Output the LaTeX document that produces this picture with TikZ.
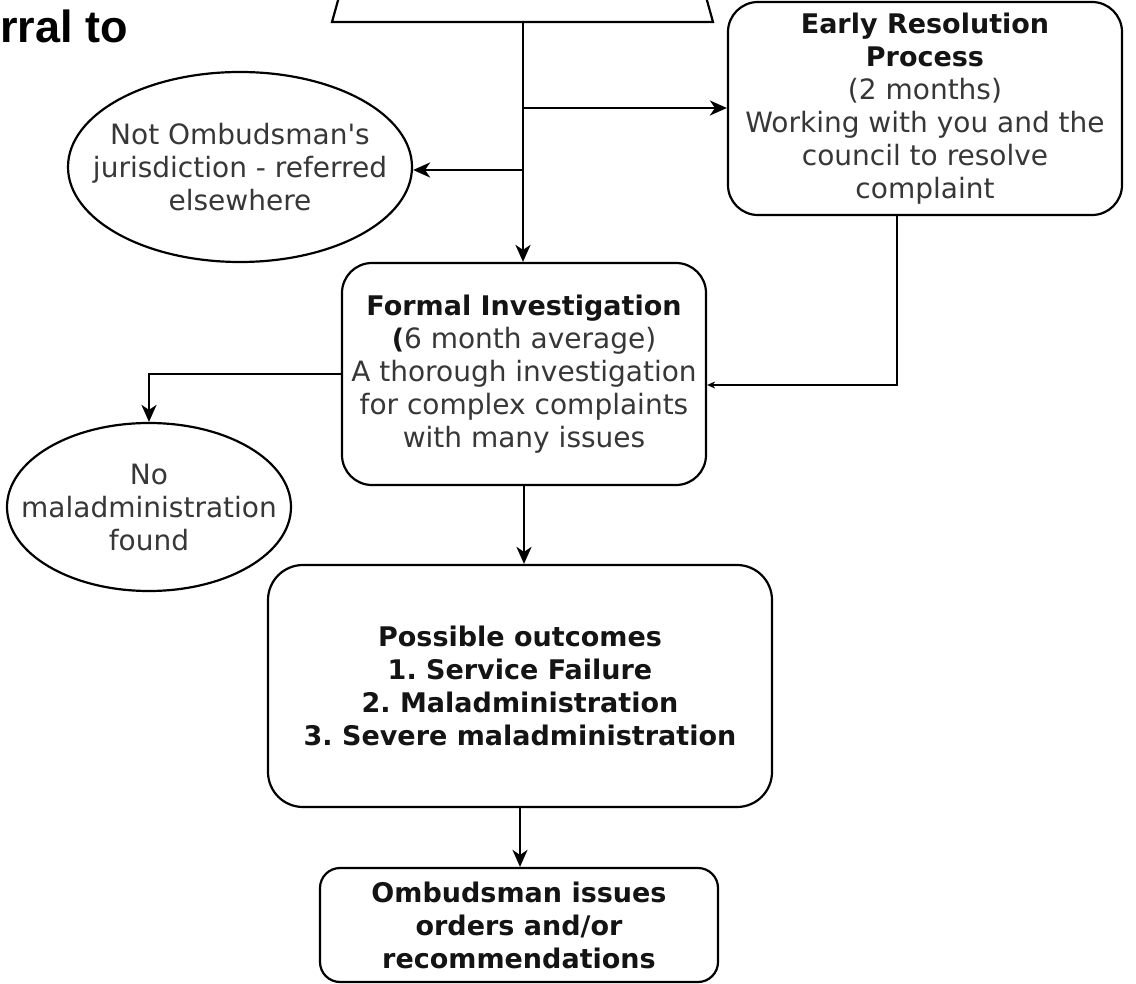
\documentclass[tikz,border=0pt]{standalone}
\usepackage{fontspec}
\setmainfont{DejaVu Sans}[Ligatures=TeXOff]
\newfontfamily\titlefont{Liberation Sans}
\usetikzlibrary{shapes.geometric,arrows.meta}
\definecolor{txt}{RGB}{55,55,55}
\definecolor{btxt}{RGB}{20,20,20}
\newcommand{\bt}[1]{\textcolor{btxt}{\fontsize{27}{33}\selectfont\textbf{#1}}}
\frenchspacing
\begin{document}
\begin{tikzpicture}[x=1pt,y=-1pt,
  line/.style={draw=black,line width=2.2pt},
  arr/.style={line,-{Stealth[length=17pt,width=15pt,inset=5pt]}},
  smallarr/.style={line,-{Stealth[length=8pt,width=7pt,inset=2.5pt]}},
  box/.style={draw=black,line width=2.2pt,rounded corners=30pt,align=center,inner sep=0pt,
    text=txt,font=\fontsize{28}{33}\selectfont},
  ell/.style={draw=black,line width=2.2pt,ellipse,align=center,inner xsep=-45pt,inner ysep=0pt,
    text=txt,font=\fontsize{28}{33}\selectfont}]
\useasboundingbox (0,0) rectangle (1136,984);
\fill[white] (0,0) rectangle (1136,984);
% title (cut off)
\node[anchor=base west,inner sep=0pt,text=black,font=\titlefont\bfseries\fontsize{45}{50}\selectfont] (title) at (0,43) {rral to};
% top trapezoid (cut off)
\begin{scope}
\clip (0,0) rectangle (1136,984);
\draw[line] (339.5,-5) -- (332,22) -- (713,22) -- (705.5,-5);
\end{scope}
\coordinate (trap) at (523,22);
% nodes
\node[box,minimum width=394pt,minimum height=213pt] (early) at (925,108.5)
  {\bt{Early Resolution}\\\bt{Process}\\(2 months)\\Working with you and the\\council to resolve\\complaint};
\node[ell,minimum width=344pt,minimum height=190pt] (ell1) at (240,167)
  {Not Ombudsman's\\jurisdiction - referred\\elsewhere};
\node[box,minimum width=364pt,minimum height=222pt] (formal) at (524,374)
  {\bt{Formal Investigation}\\\bt{(}6 month average)\\A thorough investigation\\for complex complaints\\with many issues};
\node[ell,minimum width=284pt,minimum height=168pt] (ell2) at (149,507)
  {No\\maladministration\\found};
\node[box,rounded corners=35pt,minimum width=504pt,minimum height=242pt] (outcomes) at (520,686)
  {\bt{Possible outcomes}\\\bt{1. Service Failure}\\\bt{2. Maladministration}\\\bt{3. Severe maladministration}};
\node[box,rounded corners=20pt,minimum width=398pt,minimum height=114pt] (orders) at (519,925)
  {\bt{Ombudsman issues}\\\bt{orders and/or}\\\bt{recommendations}};
% connectors
\coordinate (j1) at (523,108);
\coordinate (j2) at (523,170);
\coordinate (c3) at (897,385);
\draw[arr] (trap) -- (trap |- formal.north);
\draw[arr] (j1) -- (j1 -| early.west);
\draw[arr] (j2) -- (j2 -| ell1.east);
\draw[smallarr] (c3 |- early.south) -- (c3) -- (c3 -| formal.east);
\draw[arr] (formal.west) -| (ell2.north);
\draw[arr] (formal.south) -- (formal.south |- outcomes.north);
\draw[arr] (outcomes.south) -- (outcomes.south |- orders.north);
\end{tikzpicture}
\end{document}
